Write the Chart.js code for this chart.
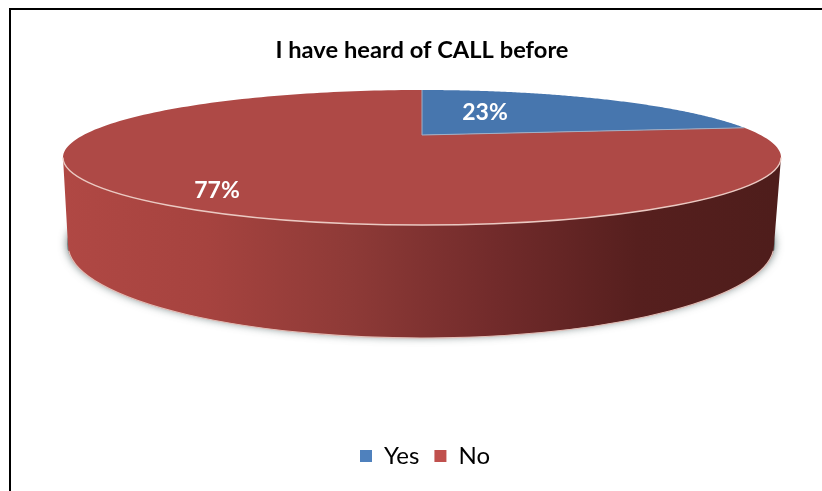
<!DOCTYPE html>
<html lang="en">
<head>
    <meta charset="UTF-8">
    <title>I have heard of CALL before</title>
    <script src="https://cdn.jsdelivr.net/npm/chart.js"></script>
    <style>
        html, body {
            margin: 0;
            padding: 0;
            height: 100%;
            overflow: hidden;
            background-color: #ffffff;
        }
        .frame {
            position: absolute;
            left: 9px;
            top: 8px;
            width: 826px;
            height: 500px;
            border: 2px solid #000000;
            box-sizing: border-box;
        }
        .chart-container {
            position: absolute;
            left: 11px;
            top: 10px;
            width: 822px;
            height: 481px;
        }
    </style>
</head>
<body>

<div class="frame"></div>
<div class="chart-container">
    <canvas id="myChart" width="822" height="481"></canvas>
</div>

<script>
    const categories = ['Yes', 'No'];
    const values = [23, 77];
    const percentLabels = ['23%', '77%'];
    const legendColors = ['#4F81BD', '#C0504D'];
    const faceColors = ['#4776AE', '#AE4946'];

    // Geometry of the tilted disc, in page pixels
    const offsetX = 11, offsetY = 10;
    const apexX = 422, apexY = 135;
    const scaleU = 338.5, persp = -1 / 3, persA = 15;
    const labelSpots = [[485, 113], [217, 191]];

    // Circle point (u, v) seen in perspective, the near side is bigger
    function project(u, v) {
        const d = 1 + persp * v;
        return [apexX + scaleU * u / d - offsetX, (persA * v + apexY) / d - offsetY];
    }

    function ellipsePath(ctx, cx, cy, rx, ry, from, to, back) {
        ctx.ellipse(cx - offsetX, cy - offsetY, rx, ry, 0, from, to, back);
    }

    const disc3d = {
        id: 'disc3d',
        afterLayout(chart) {
            // Legend sits a little right of the chart centre
            chart.legend.left += 3;
            chart.legend.right += 3;
        },
        beforeDatasetDraw(chart, args) {
            const ctx = chart.ctx;
            const arcs = chart.getDatasetMeta(args.index).data;

            // Soft shadow below the body
            ctx.save();
            ctx.shadowColor = 'rgba(80, 100, 100, 0.8)';
            ctx.shadowBlur = 9;
            ctx.fillStyle = '#7A8A8A';
            ctx.beginPath();
            ellipsePath(ctx, 421, 244, 354, 93, 0, Math.PI * 2);
            ctx.fill();
            ctx.restore();

            // Side wall
            const side = ctx.createLinearGradient(63 - offsetX, 0, 781 - offsetX, 0);
            side.addColorStop(0, '#B04844');
            side.addColorStop(0.2, '#A6433F');
            side.addColorStop(0.4, '#8E3A37');
            side.addColorStop(0.6, '#722B2B');
            side.addColorStop(0.8, '#561F1E');
            side.addColorStop(1, '#4E1D1B');
            ctx.beginPath();
            ellipsePath(ctx, 422, 157.5, 359, 67.5, 0, Math.PI);
            ctx.lineTo(68 - offsetX, 245 - offsetY);
            ellipsePath(ctx, 421, 245, 353, 93, Math.PI, 0, true);
            ctx.closePath();
            ctx.fillStyle = side;
            ctx.fill();

            // Light line on the lower rim
            ctx.beginPath();
            ellipsePath(ctx, 421, 245, 353, 93, Math.PI * 0.98, Math.PI * 0.02, true);
            ctx.strokeStyle = '#E3BDB6';
            ctx.lineWidth = 1.2;
            ctx.stroke();

            // Top face, one wedge per arc of the pie
            arcs.forEach((arc, i) => {
                const steps = 180;
                const from = arc.startAngle, to = arc.endAngle;
                ctx.beginPath();
                ctx.moveTo(...project(0, 0));
                for (let s = 0; s <= steps; s++) {
                    const a = from + (to - from) * s / steps;
                    ctx.lineTo(...project(Math.cos(a), Math.sin(a)));
                }
                ctx.closePath();
                ctx.fillStyle = faceColors[i];
                ctx.fill();
            });

            // Thin edges of the blue wedge
            const blue = arcs[0];
            ctx.beginPath();
            ctx.moveTo(...project(Math.cos(blue.startAngle), Math.sin(blue.startAngle)));
            ctx.lineTo(...project(0, 0));
            ctx.lineTo(...project(Math.cos(blue.endAngle), Math.sin(blue.endAngle)));
            ctx.strokeStyle = '#9DB0C8';
            ctx.lineWidth = 1;
            ctx.stroke();

            // Light line on the upper rim
            ctx.beginPath();
            ellipsePath(ctx, 422, 157.5, 359, 67.5, 0, Math.PI);
            ctx.strokeStyle = '#EBC9C2';
            ctx.lineWidth = 1.4;
            ctx.stroke();

            // Percent labels
            ctx.font = 'bold 23px Lato, sans-serif';
            ctx.fillStyle = '#ffffff';
            ctx.textAlign = 'center';
            ctx.textBaseline = 'middle';
            percentLabels.forEach((text, i) => {
                ctx.fillText(text, labelSpots[i][0] - offsetX, labelSpots[i][1] - offsetY);
            });
            return false;
        }
    };

    const myChart = new Chart(document.getElementById('myChart'), {
        type: 'pie',
        data: {
            labels: categories,
            datasets: [{
                data: values,
                backgroundColor: legendColors,
                borderWidth: 0
            }]
        },
        options: {
            responsive: false,
            animation: false,
            layout: { padding: { bottom: 13 } },
            plugins: {
                title: {
                    display: true,
                    text: 'I have heard of CALL before',
                    color: '#000000',
                    font: { family: 'Lato, sans-serif', size: 23.7, weight: 'bold' },
                    padding: { top: 26, bottom: 10 }
                },
                legend: {
                    position: 'bottom',
                    labels: {
                        boxWidth: 12,
                        boxHeight: 12,
                        padding: 15,
                        color: '#000000',
                        font: { family: 'Lato, sans-serif', size: 24 }
                    }
                },
                tooltip: { enabled: false }
            }
        },
        plugins: [disc3d]
    });
</script>

</body>
</html>
